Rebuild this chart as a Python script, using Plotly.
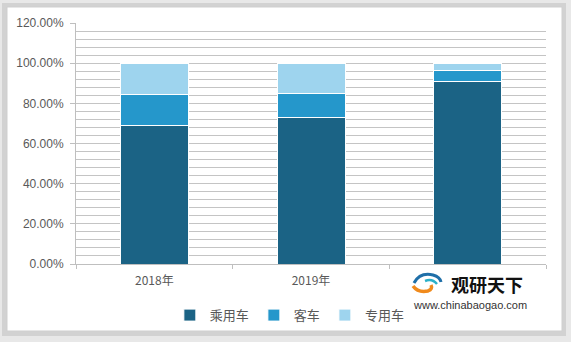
import plotly.graph_objects as go

categories = ["2018年", "2019年", "2020年"]
shown_tick_labels = ["2018年", "2019年", ""]  # 2020年 is hidden behind the watermark in the original
series_names = ["乘用车", "客车", "专用车"]
passenger = [69.0, 73.0, 90.8]
bus = [15.6, 12.0, 5.5]
special = [15.4, 15.0, 3.7]
colors = ["#1b6385", "#2597cb", "#9ed4ee"]
y_ticks = [0, 20, 40, 60, 80, 100, 120]
y_labels = ["0.00%", "20.00%", "40.00%", "60.00%", "80.00%", "100.00%", "120.00%"]

fig = go.Figure()
for name, vals, c in zip(series_names, [passenger, bus, special], colors):
    fig.add_trace(go.Bar(
        x=categories, y=vals, name=name,
        marker=dict(color=c, line=dict(color="white", width=1)),
    ))

# plot area in pixels: x 76..546, y 23..264
def px(x):
    return (x - 76) / 470.0

def py(y):
    return (264 - y) / 241.0

def path(points):
    cmds = []
    for p in points:
        cmd, coords = p[0], p[1:]
        s = cmd + " " + " ".join(f"{px(coords[i]):.4f},{py(coords[i+1]):.4f}" for i in range(0, len(coords), 2))
        cmds.append(s)
    return " ".join(cmds)

shapes = [
    dict(type="rect", xref="paper", yref="paper", layer="below",
         x0=px(2), x1=px(566), y0=py(336), y1=py(3),
         fillcolor="#d2d2d2", line=dict(width=0)),
    dict(type="rect", xref="paper", yref="paper", layer="below",
         x0=px(7), x1=px(562), y0=py(331), y1=py(7),
         fillcolor="white", line=dict(color="#cfcfcf", width=1)),
    # white area of the watermark
    dict(type="rect", xref="paper", yref="paper", layer="above",
         x0=px(403), x1=px(540), y0=py(312), y1=py(268),
         fillcolor="white", line=dict(width=0)),
    # logo swirl
    dict(type="path", xref="paper", yref="paper", layer="above",
         path=path([("M", 414, 283), ("Q", 420, 272, 433, 275), ("Q", 440, 277, 441, 282)]),
         line=dict(color="#1f6fa8", width=3)),
    dict(type="path", xref="paper", yref="paper", layer="above",
         path=path([("M", 425, 281), ("Q", 432, 278, 437, 284)]),
         line=dict(color="#2bb0c8", width=2.5)),
    dict(type="path", xref="paper", yref="paper", layer="above",
         path=path([("M", 413, 286), ("Q", 418, 293, 428, 291), ("Q", 433, 289, 431, 285)]),
         line=dict(color="#f08a1c", width=3.5)),
]

fig.update_layout(
    width=571, height=342,
    barmode="stack", bargap=0.566,
    paper_bgcolor="#e8e8e8", plot_bgcolor="white",
    margin=dict(l=76, r=25, t=23, b=78),
    font=dict(family="Liberation Sans, Noto Sans CJK SC, sans-serif", size=12, color="#595959"),
    showlegend=True,
    legend=dict(orientation="h", x=0.455, xanchor="center", y=-0.15, yanchor="top",
                font=dict(size=13, family="Noto Sans CJK SC, sans-serif", color="#595959"),
                itemwidth=30, traceorder="normal", bgcolor="rgba(0,0,0,0)"),
    xaxis=dict(showline=True, linecolor="#bfbfbf", linewidth=1, ticks="outside",
               tickson="boundaries", ticklen=4, tickcolor="#bfbfbf", ticklabelstandoff=6,
               tickmode="array", tickvals=categories, ticktext=shown_tick_labels,
               tickfont=dict(size=12, family="Noto Sans CJK SC, sans-serif", color="#595959")),
    yaxis=dict(range=[0, 120], tickvals=y_ticks, ticktext=y_labels,
               showline=True, linecolor="#bfbfbf", linewidth=1, ticks="outside",
               ticklen=5, tickcolor="#bfbfbf", ticklabelstandoff=4,
               showgrid=True, gridcolor="#c4c4c4", gridwidth=1, zeroline=False,
               minor=dict(dtick=4, showgrid=True, gridcolor="#c4c4c4", gridwidth=1),
               tickfont=dict(size=12, color="#595959")),
    shapes=shapes,
    annotations=[
        dict(xref="paper", yref="paper", x=px(449), y=py(284), xanchor="left", yanchor="middle",
             text="<b>观研天下</b>", showarrow=False,
             font=dict(size=18, color="#111111", family="Noto Sans CJK SC, sans-serif")),
        dict(xref="paper", yref="paper", x=px(411), y=py(305), xanchor="left", yanchor="middle",
             text="www.chinabaogao.com", showarrow=False,
             font=dict(size=11, color="#333333", family="Liberation Sans, sans-serif")),
    ],
)

fig.write_html("out.html")
